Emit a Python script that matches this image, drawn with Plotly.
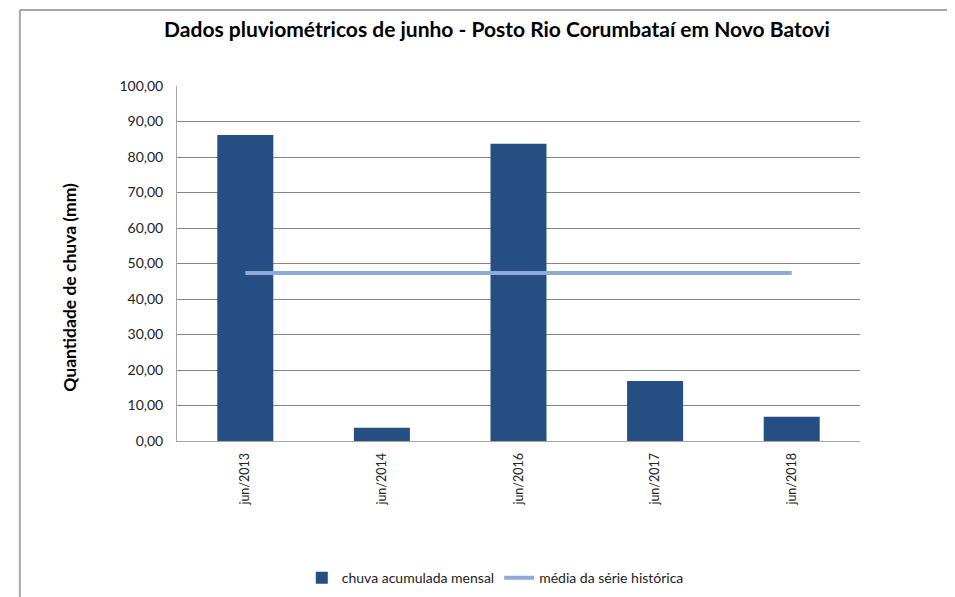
from plotly import graph_objects as go

# Values
MONTHS = ["jun/2013", "jun/2014", "jun/2016", "jun/2017", "jun/2018"]
CHUVA_MENSAL = [86.2, 3.7, 83.7, 16.9, 6.8]
MEDIA_HISTORICA = [47.3, 47.3, 47.3, 47.3, 47.3]

FONT = "Lato"
BAR_COLOR = "#254f83"
LINE_COLOR = "#8eaad8"

fig = go.Figure()
fig.add_trace(
    go.Bar(
        x=MONTHS,
        y=CHUVA_MENSAL,
        name="chuva acumulada mensal",
        marker={"color": BAR_COLOR, "line": {"width": 0}},
    )
)
fig.add_trace(
    go.Scatter(
        x=MONTHS,
        y=MEDIA_HISTORICA,
        mode="lines",
        name="média da série histórica",
        line={"color": LINE_COLOR, "width": 4},
    )
)

# page body adds an 8px offset, so margins are trimmed by 8
fig.update_layout(
    width=955,
    height=597,
    margin={"l": 169, "r": 103, "t": 78, "b": 164, "autoexpand": False},
    paper_bgcolor="white",
    plot_bgcolor="white",
    separators=",.",
    bargap=0.59,
    font={"family": FONT, "size": 13, "color": "#222222"},
    title={
        "text": "<b>Dados pluviométricos de junho - Posto Rio Corumbataí em Novo Batovi</b>",
        "x": 0.512,
        "xanchor": "center",
        "y": 0.963,
        "yanchor": "middle",
        "font": {"family": FONT, "size": 21, "color": "black"},
    },
    legend={
        "orientation": "h",
        "x": 0.466,
        "xanchor": "center",
        "yref": "container",
        "y": 0.045,
        "yanchor": "middle",
        "font": {"family": FONT, "size": 14, "color": "#222222"},
        "itemwidth": 30,
    },
    xaxis={
        "tickangle": -90,
        "showline": True,
        "linecolor": "#a6a6a6",
        "linewidth": 1,
        "showgrid": False,
        "ticks": "",
        "ticklabelstandoff": 6,
        "tickfont": {"size": 12.5},
    },
    yaxis={
        "range": [0, 100],
        "dtick": 10,
        "tickformat": ".2f",
        "showline": True,
        "linecolor": "#a6a6a6",
        "linewidth": 1,
        "showgrid": True,
        "gridcolor": "#868686",
        "gridwidth": 1,
        "zeroline": False,
        "ticks": "",
        "ticklabelstandoff": 10,
        "tickfont": {"size": 14},
    },
    # y title sits a bit below the plot centre in the reference
    annotations=[
        {
            "text": "<b>Quantidade de chuva (mm)</b>",
            "xref": "paper", "yref": "paper",
            "x": -0.157, "y": 0.434,
            "xanchor": "center", "yanchor": "middle",
            "textangle": -90,
            "showarrow": False,
            "font": {"family": FONT, "size": 17.5, "color": "black"},
        }
    ],
    # outer chart frame (top and left edges visible in the reference)
    shapes=[
        {
            "type": "line", "xref": "paper", "yref": "paper",
            "x0": -0.23, "x1": 1.2, "y0": 1.214, "y1": 1.214,
            "line": {"color": "#a6a6a6", "width": 2},
        },
        {
            "type": "line", "xref": "paper", "yref": "paper",
            "x0": -0.23, "x1": -0.23, "y0": 1.214, "y1": -0.5,
            "line": {"color": "#a6a6a6", "width": 2},
        },
    ],
)

fig.write_html("out.html")
